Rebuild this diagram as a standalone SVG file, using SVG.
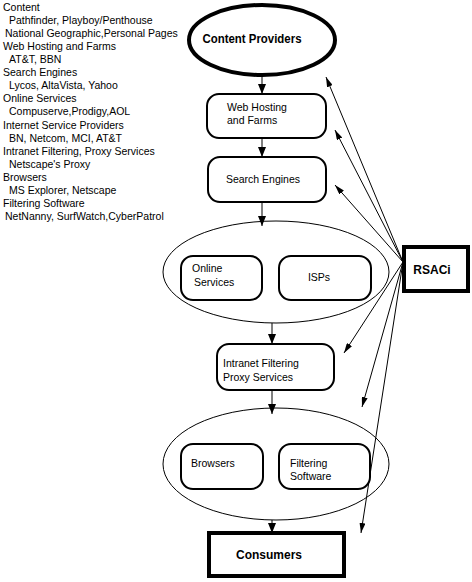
<svg xmlns="http://www.w3.org/2000/svg" width="472" height="582" viewBox="0 0 472 582">
<defs>
<style>
.t{font-family:"Liberation Sans",Arial,sans-serif;font-size:10.5px;fill:#000}
.b{font-family:"Liberation Sans",Arial,sans-serif;font-size:12px;font-weight:bold;fill:#000}
.box{fill:#fff;stroke:#000;stroke-width:2}
.thick{fill:#fff;stroke:#000;stroke-width:4}
.ell{fill:none;stroke:#000;stroke-width:1}
.ln{stroke:#000;stroke-width:1;fill:none}
</style>
<marker id="ah" viewBox="0 0 10 6" refX="10" refY="3" markerWidth="10" markerHeight="6" markerUnits="userSpaceOnUse" orient="auto">
<path d="M0,0 L10,3 L0,6 Z" fill="#000"/>
</marker>
<marker id="dh" viewBox="0 0 10 8" refX="10" refY="4" markerWidth="10" markerHeight="8" markerUnits="userSpaceOnUse" orient="auto">
<path d="M0,0 L10,4 L0,8 Z" fill="#000"/>
</marker>
</defs>
<rect width="472" height="582" fill="#fff"/>
<g id="legend">
<text class="t" x="3" y="11">Content</text>
<text class="t" x="9" y="24">Pathfinder, Playboy/Penthouse</text>
<text class="t" x="5" y="37">National Geographic,Personal Pages</text>
<text class="t" x="3" y="50">Web Hosting and Farms</text>
<text class="t" x="9" y="63">AT&amp;T, BBN</text>
<text class="t" x="3" y="76">Search Engines</text>
<text class="t" x="9" y="89">Lycos, AltaVista, Yahoo</text>
<text class="t" x="3" y="102">Online Services</text>
<text class="t" x="9" y="115">Compuserve,Prodigy,AOL</text>
<text class="t" x="3" y="129">Internet Service Providers</text>
<text class="t" x="9" y="142">BN, Netcom, MCI, AT&amp;T</text>
<text class="t" x="3" y="155">Intranet Filtering, Proxy Services</text>
<text class="t" x="9" y="168">Netscape's Proxy</text>
<text class="t" x="3" y="181">Browsers</text>
<text class="t" x="9" y="194">MS Explorer, Netscape</text>
<text class="t" x="3" y="207">Filtering Software</text>
<text class="t" x="5" y="220">NetNanny, SurfWatch,CyberPatrol</text>
</g>
<g id="group-online-isp">
<ellipse class="ell" cx="276" cy="272" rx="113" ry="51"/>
</g>
<g id="group-browsers-filtering">
<ellipse class="ell" cx="276" cy="464" rx="113" ry="56"/>
</g>
<g id="connectors">
<line class="ln" x1="262" y1="76" x2="262" y2="94" marker-end="url(#dh)"/>
<line class="ln" x1="262" y1="138" x2="262" y2="157" marker-end="url(#dh)"/>
<line class="ln" x1="262" y1="202" x2="262" y2="226" marker-end="url(#dh)"/>
<line class="ln" x1="272" y1="323" x2="272" y2="344" marker-end="url(#dh)"/>
<line class="ln" x1="272" y1="390" x2="272" y2="414" marker-end="url(#dh)"/>
<line class="ln" x1="272" y1="520" x2="272" y2="533" marker-end="url(#dh)"/>
<line class="ln" x1="403" y1="262" x2="326" y2="77" marker-end="url(#ah)"/>
<line class="ln" x1="403" y1="262" x2="335" y2="130" marker-end="url(#ah)"/>
<line class="ln" x1="403" y1="262" x2="335" y2="185" marker-end="url(#ah)"/>
<line class="ln" x1="403" y1="262" x2="344" y2="353" marker-end="url(#ah)"/>
<line class="ln" x1="403" y1="262" x2="362" y2="407" marker-end="url(#ah)"/>
<line class="ln" x1="403" y1="262" x2="361" y2="533" marker-end="url(#ah)"/>
</g>
<g id="content-providers">
<ellipse class="thick" cx="262" cy="40" rx="73" ry="35"/>
<text class="b" x="252" y="43" text-anchor="middle" textLength="99" lengthAdjust="spacingAndGlyphs">Content Providers</text>
</g>
<g id="web-hosting">
<rect class="box" x="207" y="94" width="119" height="44" rx="12"/>
<text class="t" x="227" y="111">Web Hosting</text>
<text class="t" x="227" y="124">and Farms</text>
</g>
<g id="search-engines">
<rect class="box" x="208" y="157" width="118" height="45" rx="12"/>
<text class="t" x="263" y="183" text-anchor="middle">Search Engines</text>
</g>
<g id="online-services">
<rect class="box" x="181" y="256" width="81" height="44" rx="12"/>
<text class="t" x="192" y="272">Online</text>
<text class="t" x="194" y="286">Services</text>
</g>
<g id="isps">
<rect class="box" x="279" y="256" width="92" height="44" rx="12"/>
<text class="t" x="319" y="281" text-anchor="middle">ISPs</text>
</g>
<g id="intranet-filtering">
<rect class="box" x="217" y="344" width="117" height="46" rx="12"/>
<text class="t" x="223" y="367">Intranet Filtering</text>
<text class="t" x="223" y="381">Proxy Services</text>
</g>
<g id="browsers">
<rect class="box" x="181" y="444" width="82" height="45" rx="12"/>
<text class="t" x="191" y="467">Browsers</text>
</g>
<g id="filtering-software">
<rect class="box" x="279" y="444" width="91" height="45" rx="12"/>
<text class="t" x="290" y="467">Filtering</text>
<text class="t" x="290" y="480">Software</text>
</g>
<g id="consumers">
<rect class="thick" x="209" y="533" width="135" height="43"/>
<text class="b" x="269" y="559" text-anchor="middle">Consumers</text>
</g>
<g id="rsaci">
<rect class="thick" x="404" y="247" width="64" height="44"/>
<text class="b" x="432" y="274" text-anchor="middle">RSACi</text>
</g>
</svg>
